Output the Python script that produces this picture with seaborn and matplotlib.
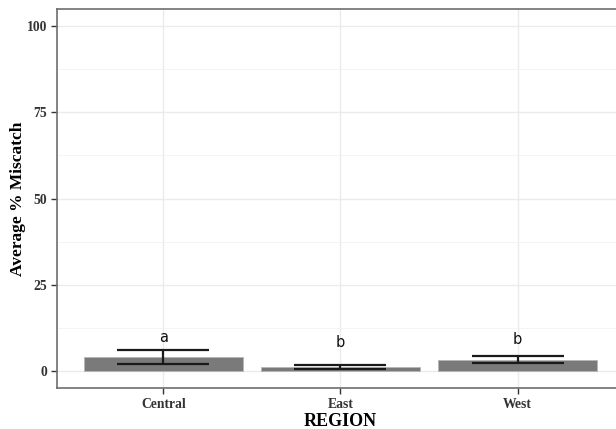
import matplotlib
matplotlib.use('Agg')
import matplotlib.pyplot as plt
from matplotlib.ticker import MultipleLocator
import numpy as np
import pandas as pd
import seaborn as sns

# Data
regions = ['Central', 'East', 'West']
means = [3.9, 1.1, 3.1]
err_low = [2.1, 0.5, 2.2]
err_high = [5.9, 1.75, 4.25]
letters = ['a', 'b', 'b']
letter_y = [9.8, 8.1, 9.1]

df = pd.DataFrame({'REGION': regions, 'miscatch': means})

sns.set_theme(style='white')
plt.rcParams['font.family'] = ['Liberation Serif', 'DejaVu Serif']

W, H = 616, 429
fig = plt.figure(figsize=(W / 100, H / 100), dpi=100)
fig.patch.set_facecolor('white')

# axes box in pixels: left 57, top 9, bottom 388; right runs past the crop
left, right, top, bottom = 57, 624, 9, 388
ax = fig.add_axes([left / W, 1 - bottom / H, (right - left) / W, (bottom - top) / H])

sns.barplot(data=df, x='REGION', y='miscatch', color='#7a7a7a', saturation=1,
            width=0.9, errorbar=None, edgecolor='#b5b5b5', linewidth=0.6,
            ax=ax, zorder=2)

x = np.arange(len(regions))
mid = [(lo + hi) / 2 for lo, hi in zip(err_low, err_high)]
half = [(hi - lo) / 2 for lo, hi in zip(err_low, err_high)]
ax.errorbar(x, mid, yerr=half, fmt='none', ecolor='#1a1a1a', elinewidth=1.6,
            capsize=33, capthick=1.6, zorder=3)

for xi, lab, yy in zip(x, letters, letter_y):
    ax.text(xi, yy, lab, ha='center', va='center', fontsize=10.5,
            family=['DejaVu Sans'], color='#111111')

ax.set_xlim(-0.6, 2.6)
ax.set_ylim(-5, 105)
ax.yaxis.set_minor_locator(MultipleLocator(12.5))
ax.set_yticks([0, 25, 50, 75, 100])

ax.grid(True, which='major', color='#ebebeb', linewidth=1.0, zorder=0)
ax.grid(True, which='minor', axis='y', color='#f2f2f2', linewidth=0.6, zorder=0)
ax.set_axisbelow(True)

for s in ax.spines.values():
    s.set_visible(True)
    s.set_color('#6e6e6e')
    s.set_linewidth(1.2)

ax.tick_params(axis='both', which='major', length=4, width=1, color='#333333',
               labelsize=9.8, labelcolor='#333333', pad=3, bottom=True, left=True)
ax.tick_params(axis='y', which='minor', length=0)
for lab in ax.get_xticklabels() + ax.get_yticklabels():
    lab.set_fontweight('bold')

ax.set_xlabel('REGION', fontsize=13, fontweight='bold', labelpad=2, color='black')
ax.set_ylabel('Average % Miscatch', fontsize=12.5, fontweight='bold', color='black')
ax.yaxis.label.set_va('center')
ax.yaxis.set_label_coords((18 - left) / (right - left), 0.5)

fig.savefig('out.png', dpi=100, facecolor='white')
plt.close()
